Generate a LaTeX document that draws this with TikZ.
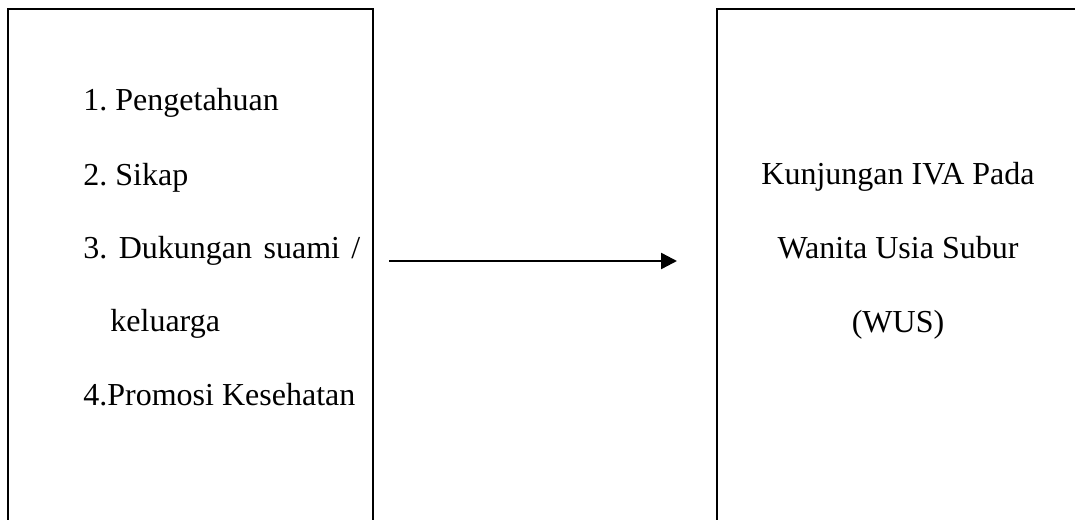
\documentclass[tikz,border=0pt]{standalone}
\usepackage{fontspec}
\setmainfont{Liberation Serif}
\usetikzlibrary{arrows.meta}
\frenchspacing
\begin{document}
\begin{tikzpicture}[x=0.5pt,y=-0.5pt,
  frame/.style={draw=black,line width=1.4pt,rectangle,inner sep=0pt,outer sep=0pt,anchor=north west},
  item/.style={inner sep=0pt,anchor=base west,font=\fontsize{16}{19}\selectfont},
  result/.style={inner sep=0pt,anchor=base,font=\fontsize{16}{19}\selectfont},
  link/.style={line width=1.2pt,-{Triangle[length=8pt,width=8pt]}}]
  \useasboundingbox (0,0) rectangle (1075,519);
  \clip (0,0) rectangle (1075,519);
  % two frames, both running past the page edges
  \node[frame,minimum width=182.5pt,minimum height=300pt] (left) at (8,9) {};
  \node[frame,minimum width=250pt,minimum height=300pt] (right) at (717,9) {};
  % factors
  \node[item] (f1) at (83,111) {1. Pengetahuan};
  \node[item] (f2) at (83,185) {2. Sikap};
  \node[item] (f3) at (83,258) {\makebox[138.5pt][s]{3. Dukungan suami /}};
  \node[item] (f3b) at (110,331) {keluarga};
  \node[item] (f4) at (83,405) {4.Promosi Kesehatan};
  % outcome
  \node[result] (o1) at (898,184) {Kunjungan IVA Pada};
  \node[result] (o2) at (898,258) {Wanita Usia Subur};
  \node[result] (o3) at (898,332) {(WUS)};
  % relation
  \coordinate (from) at (389,261);
  \coordinate (to) at (677,261);
  \draw[link] (from) -- (to);
\end{tikzpicture}
\end{document}
